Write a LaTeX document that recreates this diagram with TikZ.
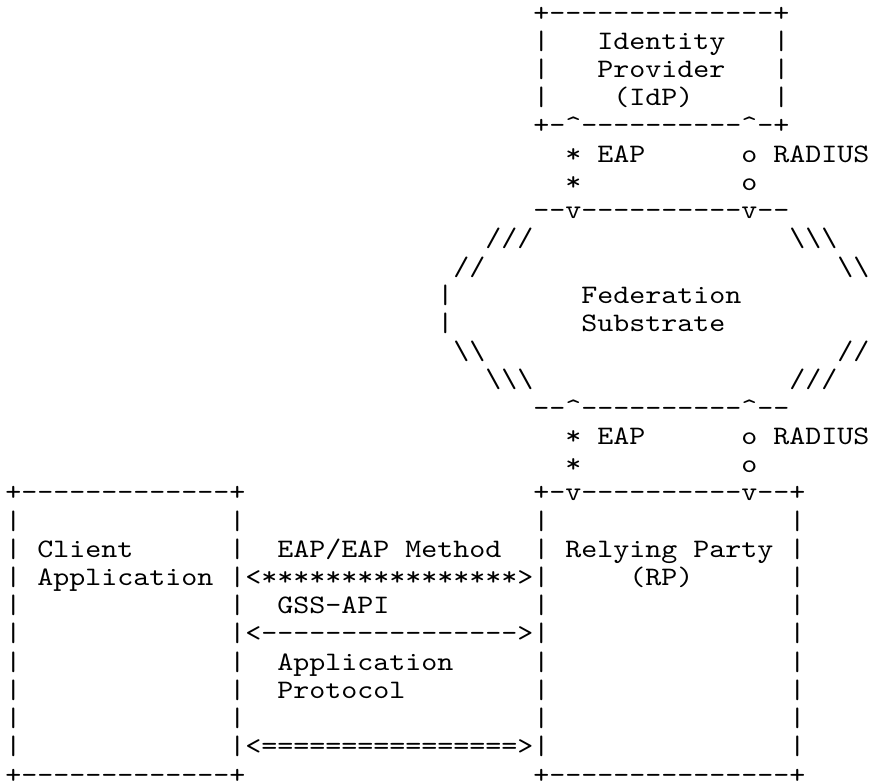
\documentclass[tikz,border=0pt]{standalone}
\usepackage{fontspec}
\setmonofont{lmmono10-regular.otf}[FakeStretch=1.143]
\usepackage{tikz}

\tikzset{
    ascii/.style={font=\ttfamily\fontsize{20pt}{21pt}\selectfont, inner sep=0pt, outer sep=0pt, text depth=0pt, anchor=base west},
}

\begin{document}
\begin{tikzpicture}[x=12pt, y=-21.17pt]
    \useasboundingbox (-0.33,-0.744) rectangle (54.17,27.03);
        %IdP box
    \node[ascii] (idp top) at (33,0) {+--------------+};
    \foreach \row in {1,2,3}{
        \node[ascii] (idp left \row) at (33,\row) {|};
        \node[ascii] (idp right \row) at (48,\row) {|};
    }
    \node[ascii] (identity) at (37,1) {Identity};
    \node[ascii] (provider) at (37,2) {Provider};
    \node[ascii] (idp) at (38,3) {(IdP)};
    \node[ascii] (idp bottom) at (33,4) {+-\textasciicircum----------\textasciicircum-+};
        %EAP and RADIUS links
    \foreach \row in {5,15}{
        \pgfmathtruncatemacro\next{\row+1}
        \node[ascii] (eap star \row) at (35,\row) {*};
        \node[ascii] (eap star \next) at (35,\next) {*};
        \node[ascii] (eap \row) at (37,\row) {EAP};
        \node[ascii] (radius o \row) at (46,\row) {o};
        \node[ascii] (radius o \next) at (46,\next) {o};
        \node[ascii] (radius \row) at (48,\row) {RADIUS};
    }
        %Federation substrate
    \node[ascii] (fed top) at (33,7) {--v----------v--};
    \node[ascii] (fed nw) at (30,8) {///};
    \node[ascii] (fed ne) at (49,8) {\textbackslash\textbackslash\textbackslash};
    \node[ascii] (fed wnw) at (28,9) {//};
    \node[ascii] (fed ene) at (52,9) {\textbackslash\textbackslash};
    \foreach \row in {10,11}
        \node[ascii] (fed west \row) at (27,\row) {|};
    \node[ascii] (federation) at (36,10) {Federation};
    \node[ascii] (substrate) at (36,11) {Substrate};
    \node[ascii] (fed wsw) at (28,12) {\textbackslash\textbackslash};
    \node[ascii] (fed ese) at (52,12) {//};
    \node[ascii] (fed sw) at (30,13) {\textbackslash\textbackslash\textbackslash};
    \node[ascii] (fed se) at (49,13) {///};
    \node[ascii] (fed bottom) at (33,14) {--\textasciicircum----------\textasciicircum--};
        %Client and RP boxes
    \node[ascii] (client top) at (0,17) {+-------------+};
    \node[ascii] (rp top) at (33,17) {+-v----------v--+};
    \foreach \row in {18,...,26}{
        \node[ascii] (client left \row) at (0,\row) {|};
        \node[ascii] (client right \row) at (14,\row) {|};
        \node[ascii] (rp left \row) at (33,\row) {|};
        \node[ascii] (rp right \row) at (49,\row) {|};
    }
    \node[ascii] (client bottom) at (0,27) {+-------------+};
    \node[ascii] (rp bottom) at (33,27) {+---------------+};
    \node[ascii] (client) at (2,19) {Client};
    \node[ascii] (application) at (2,20) {Application};
    \node[ascii] (rp) at (35,19) {Relying Party};
    \node[ascii] (rp short) at (39,20) {(RP)};
        %Protocols between client and RP
    \node[ascii] (eap method) at (17,19) {EAP/EAP Method};
    \node[ascii] (eap arrow) at (15,20) {<****************>};
    \node[ascii] (gss) at (17,21) {GSS-API};
    \node[ascii] (gss arrow) at (15,22) {<---------------->};
    \node[ascii] (app protocol a) at (17,23) {Application};
    \node[ascii] (app protocol b) at (17,24) {Protocol};
    \node[ascii] (app arrow) at (15,26) {<================>};
\end{tikzpicture}
\end{document}
